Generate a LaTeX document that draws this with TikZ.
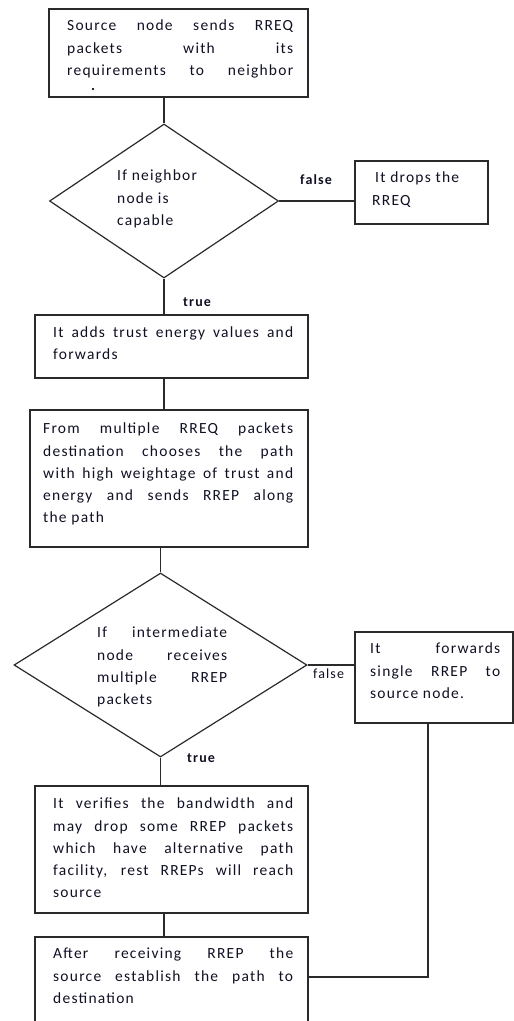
\documentclass[tikz,border=0pt]{standalone}
\usepackage{fontspec}
\setmainfont{Carlito}[LetterSpace=8]
\usetikzlibrary{shapes.geometric}

% a justified line of fixed width, and an invisible strut fixing the first line's height
\newcommand\jl[2]{\makebox[#1][s]{#2}}
\newcommand\topst{\rule{0pt}{12pt}}

\definecolor{linec}{HTML}{2A2A2A}
\definecolor{inkc}{HTML}{101024}

\begin{document}
\begin{tikzpicture}[x=1pt,y=-1pt,
  box/.style={draw=linec, line width=1.2pt, rectangle, inner sep=0pt},
  dia/.style={draw=linec, line width=1.2pt, diamond, inner sep=0pt},
  conn/.style={draw=linec, line width=1.2pt},
  txt/.style={anchor=north west, inner sep=0pt, align=left, text=inkc,
    font=\fontsize{15.5pt}{22.3pt}\selectfont},
  lbl/.style={anchor=base west, inner sep=0pt, text=inkc,
    font=\fontsize{14pt}{16pt}\selectfont\bfseries},
  lblr/.style={anchor=base west, inner sep=0pt, text=inkc,
    font=\fontsize{14pt}{16pt}\selectfont}]
\useasboundingbox (0,0) rectangle (514,1021);
\clip (0,0) rectangle (514,1021);

% shapes
\node[box, minimum width=259pt, minimum height=88pt]  (b1)   at (178.5,53) {};
\node[dia, minimum width=229pt, minimum height=154pt] (d1)   at (164,201) {};
\node[box, minimum width=133pt, minimum height=63pt]  (drop) at (421.5,192.5) {};
\node[box, minimum width=273pt, minimum height=63pt]  (b3)   at (171.5,346.5) {};
\node[box, minimum width=278pt, minimum height=137pt] (b4)   at (169,478.5) {};
\node[dia, minimum width=293pt, minimum height=184pt] (d2)   at (160.5,665) {};
\node[box, minimum width=158pt, minimum height=91pt]  (fwd)  at (434,677.5) {};
\node[box, minimum width=273pt, minimum height=127pt] (b5)   at (171.5,849.5) {};
\node[box, minimum width=273pt, minimum height=86pt]  (b6)   at (171.5,980) {};

% texts
\node[txt] (t1) at (67,18.5) {\jl{226pt}{\topst Source node sends RREQ}\\
  \jl{226pt}{packets with its}\\\jl{226pt}{requirements to neighbor}};
\node[anchor=base west, inner sep=0pt, text=inkc, font=\fontsize{15pt}{16pt}\selectfont\bfseries] (t1dot) at (91,90) {.};
\node[txt] (td1) at (117,168.5) {\topst If neighbor\\node is\\capable};
\node[txt] (tdrop) at (372,170.5) {\topst\hspace{3pt}It drops the\\RREQ};
\node[txt] (t3) at (53,325) {\jl{240pt}{\topst It adds trust energy values and}\\forwards};
\node[txt] (t4) at (43,421.5) {\jl{250pt}{\topst From multiple RREQ packets}\\
  \jl{250pt}{destination chooses the path}\\\jl{250pt}{with high weightage of trust and}\\
  \jl{250pt}{energy and sends RREP along}\\the path};
\node[txt] (td2) at (97,625.5) {\jl{130pt}{\topst If intermediate}\\\jl{130pt}{node receives}\\
  \jl{130pt}{multiple RREP}\\packets};
\node[txt] (tfwd) at (370,641.5) {\jl{130pt}{\topst It forwards}\\\jl{130pt}{single RREP to}\\source node.};
\node[txt] (t5) at (53,796.5) {\jl{240pt}{\topst It verifies the bandwidth and}\\
  \jl{240pt}{may drop some RREP packets}\\\jl{240pt}{which have alternative path}\\
  \jl{240pt}{facility, rest RREPs will reach}\\source};
\node[txt] (t6) at (53,946.5) {\jl{240pt}{\topst After receiving RREP the}\\
  \jl{240pt}{source establish the path to}\\destination};

% branch labels
\node[lbl]  (f1) at (300,184) {false};
\node[lbl]  (r1) at (183,306) {true};
\node[lblr] (f2) at (313,678) {false};
\node[lbl]  (r2) at (187,762) {true};

% connectors
\draw[conn] (d1.north |- b1.south) -- (d1.north);
\draw[conn] (d1.east) -- (d1.east -| drop.west);
\draw[conn] (d1.south) -- (d1.south |- b3.north);
\draw[conn] (d1.south |- b3.south) -- (d1.south |- b4.north);
\draw[conn] (d2.north |- b4.south) -- (d2.north);
\draw[conn] (d2.east) -- (d2.east -| fwd.west);
\draw[conn] (d2.south) -- (d2.south |- b5.north);
\draw[conn] (d1.south |- b5.south) -- (d1.south |- b6.north);
\draw[conn] ([xshift=-6pt]fwd.south) |- ([yshift=3pt]b6.east);
\end{tikzpicture}
\end{document}
